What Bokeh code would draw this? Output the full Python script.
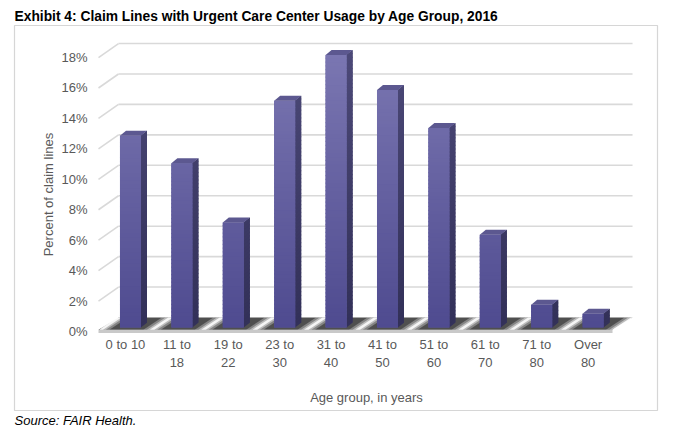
import math
from bokeh.plotting import figure
from bokeh.models import FixedTicker, Label, Title
from bokeh.embed import file_html
from bokeh.resources import INLINE

# ---------------- data ----------------
categories = ["0 to 10", "11 to 18", "19 to 22", "23 to 30", "31 to 40",
              "41 to 50", "51 to 60", "61 to 70", "71 to 80", "Over 80"]
tick_labels = ["0 to 10", "11 to\n18", "19 to\n22", "23 to\n30", "31 to\n40",
               "41 to\n50", "51 to\n60", "61 to\n70", "71 to\n80", "Over\n80"]
values = [12.6, 10.8, 6.9, 14.9, 17.9, 15.6, 13.1, 6.1, 1.5, 0.9]
y_ticks = [0, 2, 4, 6, 8, 10, 12, 14, 16, 18]
y_tick_labels = ["0%", "2%", "4%", "6%", "8%", "10%", "12%", "14%", "16%", "18%"]

title_text = "Exhibit 4: Claim Lines with Urgent Care Center Usage by Age Group, 2016"
source_text = "Source: FAIR Health."
x_title = "Age group, in years"
y_title = "Percent of claim lines"

# ---------------- geometry / style ----------------
FONT = "Liberation Sans"
PX_X, PX_Y = 51.4, 15.22          # pixels per category / per percent
X0 = -0.525                        # front-left corner of floor
X1 = 9.864                         # back-right end of wall
FX0, FX1 = -2.159, 10.35           # frame (outer box) data extent
FY0, FY1 = -5.19, 20.105
FW, FH = 643, 385

wall_dx, wall_dy = 20 / PX_X, 14 / PX_Y
bar_off_x, bar_off_y = 5 / PX_X, 4 / PX_Y
bar_half = 10.5 / PX_X
bdx, bdy = 6 / PX_X, 5 / PX_Y
front_x1 = X1 - wall_dx
AXIS_Y = -0.2

p = figure(frame_width=FW, frame_height=FH, x_range=(FX0, FX1), y_range=(FY0, FY1),
           output_backend="svg", toolbar_location=None,
           min_border_left=14, min_border_right=11, min_border_top=25,
           min_border_bottom=26)
p.xgrid.visible = False
p.ygrid.visible = False
p.outline_line_color = "#d6d6d6"
p.outline_line_width = 1.2
p.background_fill_color = "white"
p.border_fill_color = "white"

p.title.text = title_text
p.title.text_font = FONT
p.title.text_font_size = "13.8px"
p.title.text_font_style = "bold"
p.title.text_color = "black"
p.title.align = "left"
p.title.standoff = 3

src = Title(text=source_text, text_font=FONT, text_font_size="13px",
            text_font_style="italic", text_color="black", align="left", standoff=1)
p.add_layout(src, "below")

# gridlines: back wall + left wall diagonals
grid_c = "#d9d9d9"
gt = [t for t in y_ticks if t > 0]
p.segment(x0=[X0 + wall_dx] * len(gt), y0=[t + wall_dy for t in gt],
          x1=[X1] * len(gt), y1=[t + wall_dy for t in gt],
          line_color=grid_c, line_width=1.6)
p.segment(x0=[X0] * len(gt), y0=gt, x1=[X0 + wall_dx] * len(gt),
          y1=[t + wall_dy for t in gt], line_color=grid_c, line_width=1.6)

# floor
fy0, fy1 = 0.12, wall_dy
p.quad(left=[X0], right=[front_x1], bottom=[-0.1], top=[fy0],
       fill_color="#c9c9c9", line_color=None)
p.patch(x=[X0, front_x1, X1, X0 + wall_dx], y=[fy0, fy0, fy1, fy1],
        fill_color="#4f4f4f", line_color=None)
for i in range(-1, len(values)):
    g = i + 0.5 + bar_off_x
    for w, a in ((0.17, 0.3), (0.1, 0.45), (0.045, 0.85)):
        xs = [g - 0.08 - w, g - 0.08 + w, g + 0.28 + w, g + 0.28 - w]
        xs = [min(max(x, X0 + 0.02), X1) for x in xs]
        p.patch(x=xs, y=[fy0, fy0, fy1, fy1], fill_color="white",
                fill_alpha=a, line_color=None)


def mix(c1, c2, t):
    t = max(0.0, min(1.0, t))
    return "#%02x%02x%02x" % tuple(int(round(a + (b - a) * t)) for a, b in zip(c1, c2))


front_bot, front_top = (78, 74, 143), (122, 118, 177)
side_bot, side_top = (50, 48, 88), (76, 73, 120)
top_c = "#5c5890"

bl, br, bb, bt, bc = [], [], [], [], []
bsx, bsy, bsc = [], [], []
fl, fr, fb, ft, fc = [], [], [], [], []
sxs, sys_, scs = [], [], []
txs, tys = [], []
step = 0.25
for i, v in enumerate(values):
    xl = i + bar_off_x - bar_half
    xr = i + bar_off_x + bar_half
    yb = bar_off_y
    yt = v + bar_off_y
    midall = (yt / 2) / 18.0
    bl.append(xl); br.append(xr); bb.append(yb); bt.append(yt)
    bc.append(mix(front_bot, front_top, midall))
    bsx.append([xr - 0.005, xr + bdx, xr + bdx, xr - 0.005])
    bsy.append([yb, yb + bdy, yt + bdy, yt])
    bsc.append(mix(side_bot, side_top, midall))
    n = max(1, math.ceil((yt - yb) / step))
    h = (yt - yb) / n
    for k in range(n):
        a = yb + k * h
        b = min(yt, a + h + 0.08)
        mid = (a + h / 2) / 18.0
        fl.append(xl); fr.append(xr); fb.append(a); ft.append(b)
        fc.append(mix(front_bot, front_top, mid))
        sxs.append([xr - 0.005, xr + bdx, xr + bdx, xr - 0.005])
        sys_.append([a, a + bdy, b + bdy, b])
        scs.append(mix(side_bot, side_top, mid))
    txs.append([xl, xr, xr + bdx, xl + bdx])
    tys.append([yt, yt, yt + bdy, yt + bdy])

p.patches(xs=bsx, ys=bsy, fill_color=bsc, line_color=None)
p.patches(xs=sxs, ys=sys_, fill_color=scs, line_color=None)
p.quad(left=bl, right=br, bottom=bb, top=bt, fill_color=bc, line_color=None)
p.quad(left=fl, right=fr, bottom=fb, top=ft, fill_color=fc, line_color=None)
p.patches(xs=txs, ys=tys, fill_color=top_c, line_color=None)

# axes (drawn inside the outer box)
lab_c = "#595959"
p.xaxis.ticker = FixedTicker(ticks=list(range(len(categories))))
p.xaxis.major_label_overrides = {i: t for i, t in enumerate(tick_labels)}
p.yaxis.ticker = FixedTicker(ticks=y_ticks)
p.yaxis.major_label_overrides = {t: l for t, l in zip(y_ticks, y_tick_labels)}
for ax in (p.xaxis, p.yaxis):
    ax.axis_line_color = None
    ax.major_tick_line_color = None
    ax.minor_tick_line_color = None
    ax.major_tick_out = 0
    ax.major_tick_in = 0
    ax.minor_tick_out = 0
    ax.minor_tick_in = 0
    ax.major_label_text_font = FONT
    ax.major_label_text_font_size = "13px"
    ax.major_label_text_color = lab_c
p.xaxis.fixed_location = AXIS_Y
p.yaxis.fixed_location = X0
p.xaxis.major_label_standoff = 2
p.yaxis.major_label_standoff = 11

p.add_layout(Label(x=(366 - 125) / PX_X, y=(331 - 397) / PX_Y, text=x_title,
                   text_font=FONT, text_font_size="13px", text_color=lab_c,
                   text_align="center", text_baseline="middle"))
p.add_layout(Label(x=X0 - 50 / PX_X, y=9.0, text=y_title, angle=math.pi / 2,
                   text_font=FONT, text_font_size="13px", text_color=lab_c,
                   text_align="center", text_baseline="middle"))

open("out.html", "w").write(file_html(p, INLINE))
